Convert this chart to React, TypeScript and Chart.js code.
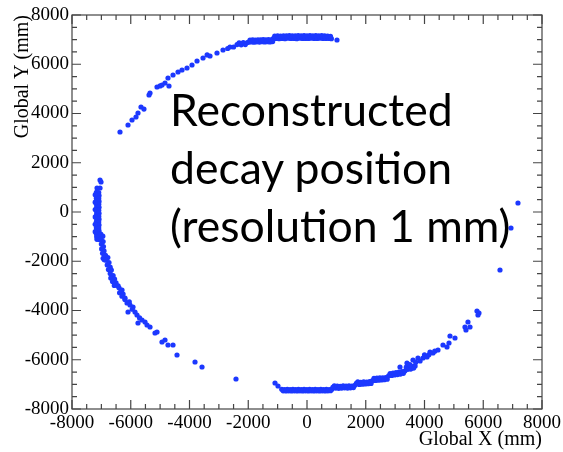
import { useEffect, useRef } from "react";
import { Chart, registerables } from "chart.js";

Chart.register(...registerables);

// ---- Axis ticks and titles ----
const xTicks = [-8000, -6000, -4000, -2000, 0, 2000, 4000, 6000, 8000];
const yTicks = [-8000, -6000, -4000, -2000, 0, 2000, 4000, 6000, 8000];
const xTitle = "Global X (mm)";
const yTitle = "Global Y (mm)";
const noteLines = ["Reconstructed", "decay position", "(resolution 1 mm)"];

// ---- Reconstructed decay positions (mm) ----
const topArcSparse: [number, number][] = [
  [-6366, 3249], [-6093, 3533], [-5957, 3736], [-5821, 3858], [-5753, 4020],
  [-5651, 4264], [-5550, 4180], [-5378, 4751], [-5344, 4833], [-5106, 5076],
  [-5000, 5120], [-4936, 5157], [-4834, 5239], [-4698, 5117], [-4732, 5442],
  [-4561, 5564], [-4391, 5685], [-4255, 5767], [-4085, 5848], [-3915, 5970],
  [-3744, 6132], [-3540, 6254], [-3400, 6380], [-3302, 6335], [-3064, 6457],
  [-2859, 6579], [-2700, 6640], [-2621, 6701], [-2500, 6700], [1021, 6985],
];

const topArcBand: [number, number][] = [
  [-2380, 6800], [-2310, 6870], [-2240, 6790], [-2170, 6880], [-2100, 6800], [-2030, 6880],
  [-1980, 6900], [-1890, 6905], [-1800, 6895], [-1710, 6910], [-1620, 6900],
  [-1530, 6915], [-1440, 6905], [-1350, 6915], [-1260, 6905], [-1170, 6920],
  [-1940, 6985], [-1850, 6990], [-1760, 6980], [-1670, 6995], [-1580, 6990],
  [-1490, 7000], [-1400, 6990], [-1310, 7000], [-1220, 6995],
  [-1150, 7040], [-1050, 7045], [-950, 7035], [-850, 7050], [-750, 7040],
  [-650, 7055], [-550, 7045], [-450, 7050], [-350, 7040], [-250, 7055],
  [-150, 7045], [-50, 7050], [50, 7045], [150, 7055], [250, 7050],
  [350, 7045], [450, 7055], [550, 7050], [650, 7045], [750, 7050], [830, 7040],
  [-1100, 7140], [-1000, 7150], [-900, 7145], [-800, 7155], [-700, 7150],
  [-600, 7160], [-500, 7155], [-400, 7150], [-300, 7160], [-200, 7155],
  [-100, 7160], [0, 7155], [100, 7160], [200, 7155], [300, 7160],
  [400, 7155], [500, 7160], [600, 7150], [700, 7145], [800, 7130],
];

const leftArcBand: [number, number][] = [
  [-7170, 800], [-7090, 790], [-7160, 680], [-7080, 670], [-7170, 560], [-7090, 550],
  [-7160, 440], [-7080, 430], [-7170, 320], [-7090, 310], [-7160, 200], [-7080, 190],
  [-7170, 80], [-7090, 70], [-7160, -40], [-7080, -50], [-7170, -160], [-7090, -170],
  [-7160, -280], [-7080, -290], [-7170, -400], [-7090, -410], [-7160, -520], [-7080, -530],
  [-7170, -640], [-7090, -650], [-7160, -760], [-7080, -770], [-7170, -880], [-7090, -890],
  [-7160, -1000], [-7080, -1010], [-7150, -1110], [-7070, -1120],
  [-7210, 700], [-7210, 400], [-7210, 100], [-7210, -200], [-7210, -500], [-7210, -800],
  [-7020, -900], [-6950, -980], [-7010, -1100], [-6940, -1200], [-7000, -1300],
  [-6930, -1400], [-6990, -1500], [-6910, -1580], [-6960, -1680], [-6890, -1780],
  [-6940, -1880], [-6900, -1940],
  [-6860, -1760], [-6780, -1850], [-6840, -1960], [-6740, -2050], [-6800, -2150],
  [-6700, -2240], [-6760, -2340], [-6660, -2360],
  [-6700, -2500], [-6600, -2580], [-6680, -2680], [-6550, -2720], [-6620, -2820],
  [-6500, -2880], [-6560, -2980], [-6430, -3000],
  [-6400, -3080], [-6320, -3180], [-6380, -3280], [-6260, -3330], [-6300, -3420],
  [-6200, -3550], [-6050, -3650],
];

const leftArcSparse: [number, number][] = [
  [-7046, 1300], [-7012, 1218], [-7148, 975], [-7046, 975],
  [-6297, -3168], [-6195, -3492], [-6127, -3695], [-6025, -3777], [-5923, -3858],
  [-6093, -4061], [-5855, -4061], [-5950, -3950], [-5787, -4183], [-5700, -4300],
  [-5753, -4508], [-5617, -4386], [-5514, -4467], [-5446, -4589], [-5344, -4670],
  [-5174, -4914], [-5106, -4873], [-4936, -5279], [-4834, -5198], [-4732, -5401],
  [-4561, -5401], [-4425, -5807], [-3812, -6092], [-3574, -6295], [-2417, -6782],
];

const bottomArcBand: [number, number][] = [
  [-860, -7200], [-765, -7210], [-670, -7200], [-575, -7210], [-480, -7200],
  [-385, -7210], [-290, -7200], [-195, -7210], [-100, -7200], [-5, -7210],
  [90, -7200], [185, -7210], [280, -7200], [375, -7210], [470, -7200],
  [565, -7210], [660, -7200], [755, -7210], [850, -7200],
  [-810, -7260], [-715, -7265], [-620, -7260], [-525, -7265], [-430, -7260],
  [-335, -7265], [-240, -7260], [-145, -7265], [-50, -7260], [45, -7265],
  [140, -7260], [235, -7265], [330, -7260], [425, -7265], [520, -7260],
  [615, -7265], [710, -7260], [800, -7255],
  [880, -7120], [930, -7060], [980, -7150], [1030, -7070], [1080, -7160], [1130, -7080],
  [1180, -7150], [1230, -7060], [1280, -7140], [1330, -7070], [1380, -7150], [1430, -7060],
  [1480, -7140], [1530, -7070], [1580, -7130], [1630, -7040],
  [1680, -6960], [1730, -6900], [1780, -7000], [1830, -6920], [1880, -6990], [1930, -6900],
  [1980, -6980], [2030, -6910], [2080, -6970], [2130, -6890], [2180, -6960],
  [2230, -6850], [2280, -6760], [2330, -6840], [2380, -6750], [2430, -6830], [2480, -6740],
  [2530, -6820], [2580, -6730], [2630, -6810], [2680, -6720], [2730, -6790],
  [2780, -6650], [2830, -6560], [2880, -6640], [2930, -6540], [2980, -6620], [3030, -6520],
  [3080, -6600], [3130, -6500], [3180, -6580], [3230, -6480], [3280, -6550], [3330, -6460],
  [3380, -6300], [3430, -6390], [3480, -6320], [3530, -6380], [3580, -6270], [3630, -6340],
  [3680, -6250],
];

const bottomArcSparse: [number, number][] = [
  [-1089, -6944], [-987, -7066],
  [3166, -6295], [3404, -6132], [3500, -6200], [3608, -6010], [3700, -6100],
  [3778, -5929], [3850, -6050], [3949, -5929], [4000, -5800], [4085, -5888],
  [4150, -5800], [4187, -5685], [4289, -5726], [4350, -5650], [4459, -5604],
  [4629, -5401], [4766, -5482], [4834, -5320], [4868, -5036], [5038, -5117],
  [5378, -4670], [5412, -4792], [5480, -4467], [5549, -4670], [5787, -4020],
  [5855, -4102], [5821, -4183], [6570, -2355], [6944, -650], [7182, 365],
];

const allPoints = [
  ...topArcSparse, ...topArcBand,
  ...leftArcBand, ...leftArcSparse,
  ...bottomArcBand, ...bottomArcSparse,
].map(([x, y]) => ({ x, y }));

const SERIF = "'Liberation Serif', 'DejaVu Serif', serif";
const TICK_FONT = { family: SERIF, size: 19 };
const TITLE_FONT = { family: SERIF, size: 20 };

const framePlugin = {
  id: "rootFrame",
  afterDraw(chart: any) {
    const { ctx, chartArea: a, scales } = chart;
    const xs = scales.x;
    const ys = scales.y;
    ctx.save();
    ctx.strokeStyle = "#444";
    ctx.lineWidth = 1.2;
    ctx.strokeRect(a.left, a.top, a.right - a.left, a.bottom - a.top);
    ctx.beginPath();
    for (let v = xs.min; v <= xs.max + 1e-6; v += 500) {
      const px = xs.getPixelForValue(v);
      const len = Math.abs(v % 2000) < 1e-6 ? 9 : 5;
      ctx.moveTo(px, a.bottom);
      ctx.lineTo(px, a.bottom - len);
      ctx.moveTo(px, a.top);
      ctx.lineTo(px, a.top + len);
    }
    for (let v = ys.min; v <= ys.max + 1e-6; v += 500) {
      const py = ys.getPixelForValue(v);
      const len = Math.abs(v % 2000) < 1e-6 ? 9 : 5;
      ctx.moveTo(a.left, py);
      ctx.lineTo(a.left + len, py);
      ctx.moveTo(a.right, py);
      ctx.lineTo(a.right - len, py);
    }
    ctx.stroke();
    ctx.restore();
  },
};

export default function App() {
  const canvasRef = useRef<HTMLCanvasElement | null>(null);

  useEffect(() => {
    const canvas = canvasRef.current;
    if (!canvas) return;
    const chart = new Chart(canvas, {
      type: "scatter",
      data: {
        datasets: [
          {
            data: allPoints,
            backgroundColor: "rgb(28,56,255)",
            borderWidth: 0,
            pointRadius: 2.6,
            pointHoverRadius: 2.6,
          },
        ],
      },
      options: {
        animation: false,
        responsive: false,
        events: [],
        layout: { padding: { left: 0, right: 21, top: 15, bottom: 0 } },
        plugins: { legend: { display: false }, tooltip: { enabled: false } },
        scales: {
          x: {
            type: "linear",
            min: -8000,
            max: 8000,
            afterBuildTicks: (s: any) => {
              s.ticks = xTicks.map((v) => ({ value: v }));
            },
            afterFit: (s: any) => {
              s.height = 43;
              s.paddingLeft = 0;
              s.paddingRight = 0;
            },
            grid: { display: false, drawTicks: false },
            border: { display: false },
            ticks: {
              autoSkip: false,
              maxRotation: 0,
              padding: 3,
              color: "#000",
              font: TICK_FONT,
              callback: (v: any) => String(v),
            },
            title: {
              display: true,
              text: xTitle,
              align: "end",
              color: "#000",
              font: TITLE_FONT,
              padding: { top: 0, bottom: 0 },
            },
          },
          y: {
            type: "linear",
            min: -8000,
            max: 8000,
            afterBuildTicks: (s: any) => {
              s.ticks = yTicks.map((v) => ({ value: v }));
            },
            afterFit: (s: any) => {
              s.width = 72;
              s.paddingTop = 0;
              s.paddingBottom = 0;
            },
            grid: { display: false, drawTicks: false },
            border: { display: false },
            ticks: {
              autoSkip: false,
              padding: 3,
              color: "#000",
              font: TICK_FONT,
              callback: (v: any) => String(v),
            },
            title: {
              display: true,
              text: yTitle,
              align: "end",
              color: "#000",
              font: TITLE_FONT,
              padding: { top: 11, bottom: 0 },
            },
          },
        },
      },
      plugins: [framePlugin],
    });
    return () => chart.destroy();
  }, []);

  return (
    <div style={{ position: "absolute", left: 0, top: 0, width: 563, height: 452, background: "#fff" }}>
      <canvas ref={canvasRef} width={563} height={452} style={{ display: "block" }} />
      <div
        style={{
          position: "absolute",
          left: 170,
          top: 80,
          fontFamily: "Lato, 'Open Sans', sans-serif",
          fontSize: 44.5,
          lineHeight: "58px",
          color: "#000",
          whiteSpace: "pre",
          pointerEvents: "none",
        }}
      >
        {noteLines.map((l, i) => (
          <div key={i}>{l}</div>
        ))}
      </div>
    </div>
  );
}
